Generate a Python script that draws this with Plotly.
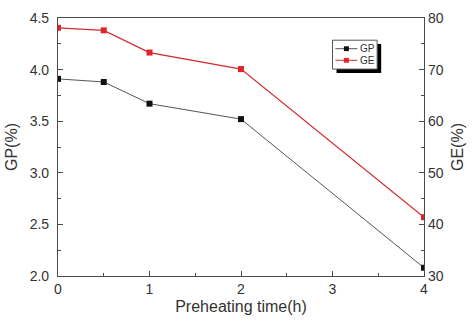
import plotly.graph_objects as go

# Preheating time (h) and measured germination indices
preheat_h = [0, 0.5, 1, 2, 4]
gp_pct = [3.91, 3.88, 3.67, 3.52, 2.08]
ge_pct = [78.1, 77.6, 73.3, 70.1, 41.4]

x_ticks = [0, 1, 2, 3, 4]
gp_ticks = [2.0, 2.5, 3.0, 3.5, 4.0, 4.5]
ge_ticks = [30, 40, 50, 60, 70, 80]

AXIS = "#4a4a4a"
GP_LINE, GP_MARK = "#555555", "#111111"
GE_LINE, GE_MARK = "#d42a2f", "#e0242b"
FONT = "Liberation Sans, Arial, sans-serif"

fig = go.Figure()
fig.add_trace(go.Scatter(
    x=preheat_h, y=gp_pct, name="GP", mode="lines+markers",
    line=dict(color=GP_LINE, width=1),
    marker=dict(symbol="square", size=6, color=GP_MARK),
))
fig.add_trace(go.Scatter(
    x=preheat_h, y=ge_pct, name="GE", mode="lines+markers", yaxis="y2",
    line=dict(color=GE_LINE, width=1.2),
    marker=dict(symbol="square", size=6, color=GE_MARK),
))

axis_common = dict(
    showgrid=False, zeroline=False, showline=True, linecolor=AXIS, linewidth=1.2,
    ticks="inside", ticklen=5, tickcolor=AXIS, tickwidth=1,
    tickfont=dict(family=FONT, size=14, color="#333333"),
)

fig.update_layout(
    width=474, height=322,
    margin=dict(l=56, r=50, t=10, b=44),
    paper_bgcolor="white", plot_bgcolor="white",
    font=dict(family=FONT, color="#333333"),
    showlegend=False,
    xaxis=dict(
        range=[0, 4], tickvals=x_ticks, mirror=True,
        minor=dict(dtick=0.5, ticks="inside", ticklen=3, tickcolor=AXIS),
        title=dict(text="Preheating time(h)", font=dict(size=16), standoff=4),
        **axis_common,
    ),
    yaxis=dict(
        range=[2.0, 4.5], tickvals=gp_ticks, tickformat=".1f", ticklabelstandoff=5,
        minor=dict(dtick=0.25, ticks="inside", ticklen=3, tickcolor=AXIS),
        title=dict(text="GP(%)", font=dict(size=16), standoff=8),
        **axis_common,
    ),
    yaxis2=dict(
        range=[30, 80], tickvals=ge_ticks, overlaying="y", side="right",
        minor=dict(dtick=5, ticks="inside", ticklen=3, tickcolor=AXIS),
        title=dict(text="GE(%)", font=dict(size=16), standoff=9),
        **axis_common,
    ),
)

# Compact boxed legend with a drop shadow, in paper coordinates
bx0, bx1, by0, by1 = 0.750, 0.872, 0.802, 0.914
sdx, sdy = 0.011, 0.015
fig.add_shape(type="rect", xref="paper", yref="paper",
              x0=bx0 + sdx, x1=bx1 + sdx, y0=by0 - sdy, y1=by1 - sdy,
              fillcolor="black", line=dict(width=0), layer="above")
fig.add_shape(type="rect", xref="paper", yref="paper",
              x0=bx0, x1=bx1, y0=by0, y1=by1,
              fillcolor="white", line=dict(color="#555555", width=1), layer="above")

seg_x0, seg_x1, mark_x, text_x = 0.758, 0.818, 0.788, 0.822
hx, hy = 0.0068, 0.0093
for row_y, label, lc, mc in [(0.881, "GP", GP_LINE, GP_MARK), (0.836, "GE", GE_LINE, GE_MARK)]:
    fig.add_shape(type="line", xref="paper", yref="paper",
                  x0=seg_x0, x1=seg_x1, y0=row_y, y1=row_y,
                  line=dict(color=lc, width=1), layer="above")
    fig.add_shape(type="rect", xref="paper", yref="paper",
                  x0=mark_x - hx, x1=mark_x + hx, y0=row_y - hy, y1=row_y + hy,
                  fillcolor=mc, line=dict(width=0), layer="above")
    fig.add_annotation(x=text_x, y=row_y, xref="paper", yref="paper",
                       text=label, showarrow=False, xanchor="left", yanchor="middle",
                       borderpad=0, font=dict(size=10, family=FONT, color="#333333"))

fig.write_html("out.html")
